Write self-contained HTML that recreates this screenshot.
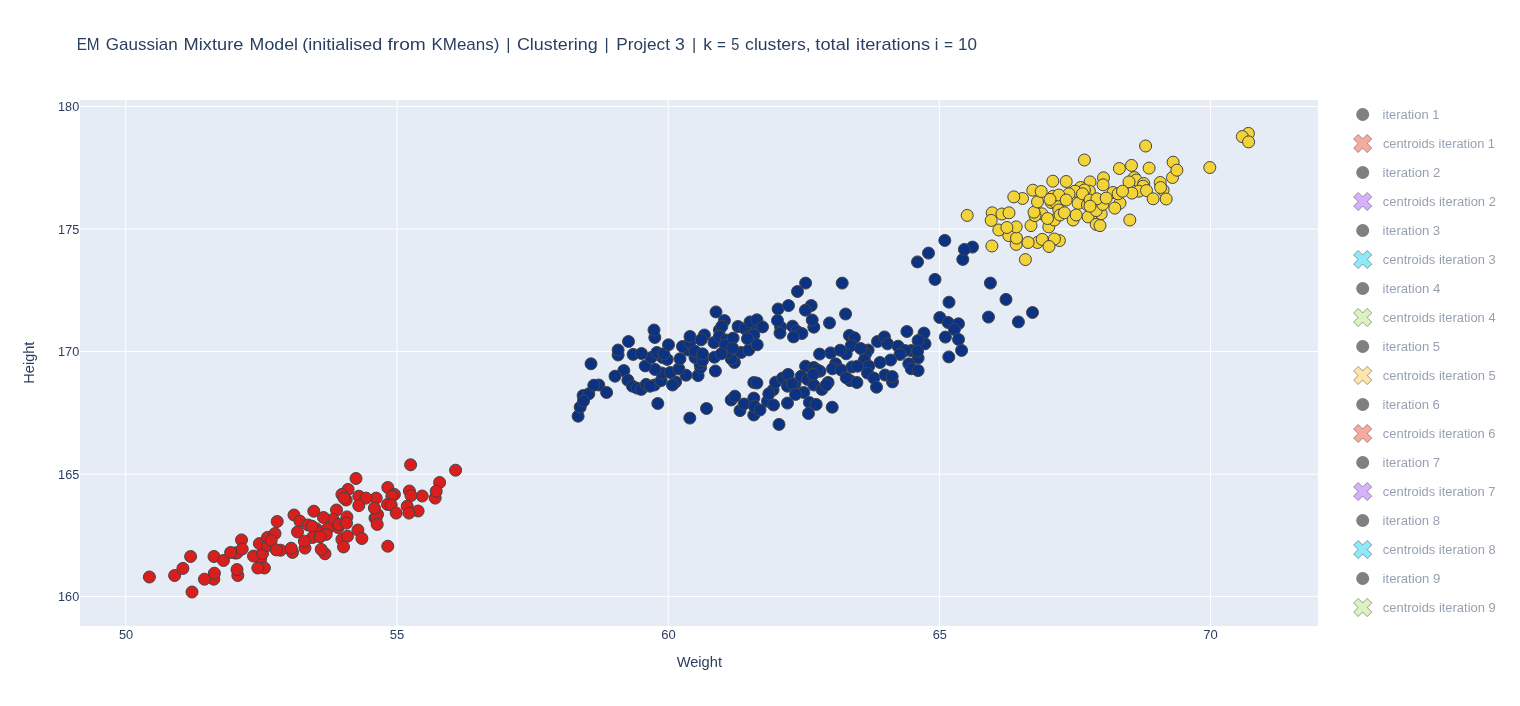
<!DOCTYPE html>
<html><head><meta charset="utf-8"><title>EM Gaussian Mixture Model</title>
<style>html,body{margin:0;padding:0;background:#fff;}svg{display:block;}text{font-family:"Liberation Sans", Arial, sans-serif;fill:#2a3f5f;}</style></head><body>
<svg width="1520" height="706" viewBox="0 0 1520 706">
<rect x="0" y="0" width="1520" height="706" fill="#fff"/>
<rect x="80" y="100" width="1238" height="526" fill="#E5ECF6"/>
<g stroke="#fff" stroke-width="1">
<line x1="125.83" y1="100" x2="125.83" y2="626"/>
<line x1="397.01" y1="100" x2="397.01" y2="626"/>
<line x1="668.25" y1="100" x2="668.25" y2="626"/>
<line x1="939.4" y1="100" x2="939.4" y2="626"/>
<line x1="1210.54" y1="100" x2="1210.54" y2="626"/>
<line x1="80" y1="596.5" x2="1318" y2="596.5"/>
<line x1="80" y1="474.15" x2="1318" y2="474.15"/>
<line x1="80" y1="351.5" x2="1318" y2="351.5"/>
<line x1="80" y1="229.15" x2="1318" y2="229.15"/>
<line x1="80" y1="106.5" x2="1318" y2="106.5"/>
</g>
<g fill="rgb(12,51,131)" stroke="#444" stroke-width="1">
<circle cx="591.0" cy="363.8" r="6"/><circle cx="578.1" cy="416.2" r="6"/><circle cx="580.2" cy="407.2" r="6"/><circle cx="583.1" cy="395.6" r="6"/><circle cx="588.8" cy="393.8" r="6"/><circle cx="583.5" cy="401.0" r="6"/><circle cx="598.8" cy="385.0" r="6"/><circle cx="593.8" cy="385.2" r="6"/><circle cx="606.6" cy="392.5" r="6"/><circle cx="623.8" cy="370.6" r="6"/><circle cx="615.0" cy="376.2" r="6"/><circle cx="627.9" cy="380.2" r="6"/><circle cx="632.5" cy="386.2" r="6"/><circle cx="636.9" cy="388.1" r="6"/><circle cx="641.2" cy="389.4" r="6"/><circle cx="646.2" cy="384.4" r="6"/><circle cx="654.4" cy="385.0" r="6"/><circle cx="661.2" cy="380.6" r="6"/><circle cx="650.0" cy="386.2" r="6"/><circle cx="657.8" cy="403.5" r="6"/><circle cx="689.8" cy="418.1" r="6"/><circle cx="706.5" cy="408.5" r="6"/><circle cx="731.2" cy="400.0" r="6"/><circle cx="734.8" cy="396.2" r="6"/><circle cx="740.0" cy="410.6" r="6"/><circle cx="744.0" cy="404.0" r="6"/><circle cx="753.8" cy="415.0" r="6"/><circle cx="753.8" cy="398.1" r="6"/><circle cx="754.4" cy="406.2" r="6"/><circle cx="753.8" cy="382.5" r="6"/><circle cx="715.4" cy="371.0" r="6"/><circle cx="698.1" cy="375.6" r="6"/><circle cx="686.0" cy="375.2" r="6"/><circle cx="675.6" cy="381.9" r="6"/><circle cx="672.5" cy="385.0" r="6"/><circle cx="661.9" cy="373.1" r="6"/><circle cx="655.0" cy="369.4" r="6"/><circle cx="670.2" cy="372.5" r="6"/><circle cx="645.2" cy="365.9" r="6"/><circle cx="678.8" cy="368.8" r="6"/><circle cx="700.6" cy="367.5" r="6"/><circle cx="700.0" cy="363.8" r="6"/><circle cx="695.0" cy="357.5" r="6"/><circle cx="702.5" cy="360.6" r="6"/><circle cx="680.0" cy="358.8" r="6"/><circle cx="662.5" cy="357.5" r="6"/><circle cx="667.2" cy="359.4" r="6"/><circle cx="651.2" cy="357.5" r="6"/><circle cx="633.1" cy="354.4" r="6"/><circle cx="641.5" cy="353.5" r="6"/><circle cx="618.1" cy="355.0" r="6"/><circle cx="618.1" cy="350.0" r="6"/><circle cx="714.4" cy="357.2" r="6"/><circle cx="734.4" cy="362.5" r="6"/><circle cx="731.2" cy="358.8" r="6"/><circle cx="727.5" cy="352.5" r="6"/><circle cx="741.2" cy="352.5" r="6"/><circle cx="748.8" cy="350.0" r="6"/><circle cx="628.5" cy="341.5" r="6"/><circle cx="654.8" cy="337.5" r="6"/><circle cx="654.0" cy="330.0" r="6"/><circle cx="656.9" cy="352.5" r="6"/><circle cx="663.8" cy="353.8" r="6"/><circle cx="668.5" cy="344.8" r="6"/><circle cx="688.1" cy="350.0" r="6"/><circle cx="682.5" cy="346.5" r="6"/><circle cx="690.0" cy="342.5" r="6"/><circle cx="690.0" cy="336.5" r="6"/><circle cx="704.4" cy="335.0" r="6"/><circle cx="701.2" cy="339.8" r="6"/><circle cx="695.0" cy="351.2" r="6"/><circle cx="702.5" cy="353.8" r="6"/><circle cx="714.0" cy="342.5" r="6"/><circle cx="716.0" cy="311.9" r="6"/><circle cx="724.4" cy="320.6" r="6"/><circle cx="719.4" cy="330.0" r="6"/><circle cx="721.9" cy="326.2" r="6"/><circle cx="719.4" cy="336.2" r="6"/><circle cx="738.1" cy="326.5" r="6"/><circle cx="751.2" cy="328.8" r="6"/><circle cx="745.0" cy="328.8" r="6"/><circle cx="750.0" cy="321.9" r="6"/><circle cx="748.8" cy="336.2" r="6"/><circle cx="726.2" cy="340.0" r="6"/><circle cx="725.0" cy="345.0" r="6"/><circle cx="733.1" cy="338.1" r="6"/><circle cx="732.5" cy="348.1" r="6"/><circle cx="721.2" cy="353.8" r="6"/><circle cx="805.6" cy="283.1" r="6"/><circle cx="797.5" cy="291.5" r="6"/><circle cx="842.2" cy="283.1" r="6"/><circle cx="778.1" cy="309.0" r="6"/><circle cx="788.5" cy="305.6" r="6"/><circle cx="811.2" cy="305.6" r="6"/><circle cx="805.4" cy="310.2" r="6"/><circle cx="813.8" cy="327.2" r="6"/><circle cx="812.2" cy="320.0" r="6"/><circle cx="829.5" cy="322.9" r="6"/><circle cx="845.6" cy="314.0" r="6"/><circle cx="780.6" cy="326.9" r="6"/><circle cx="780.0" cy="333.1" r="6"/><circle cx="777.5" cy="320.6" r="6"/><circle cx="792.5" cy="326.2" r="6"/><circle cx="796.9" cy="331.2" r="6"/><circle cx="801.9" cy="333.5" r="6"/><circle cx="793.5" cy="336.9" r="6"/><circle cx="756.9" cy="319.8" r="6"/><circle cx="762.5" cy="326.9" r="6"/><circle cx="753.8" cy="335.0" r="6"/><circle cx="747.5" cy="338.8" r="6"/><circle cx="757.2" cy="344.8" r="6"/><circle cx="849.4" cy="335.4" r="6"/><circle cx="854.4" cy="337.8" r="6"/><circle cx="851.2" cy="345.6" r="6"/><circle cx="846.2" cy="353.8" r="6"/><circle cx="830.6" cy="352.9" r="6"/><circle cx="840.2" cy="350.2" r="6"/><circle cx="819.6" cy="354.1" r="6"/><circle cx="835.6" cy="363.8" r="6"/><circle cx="805.6" cy="366.2" r="6"/><circle cx="813.8" cy="367.5" r="6"/><circle cx="868.1" cy="350.0" r="6"/><circle cx="865.6" cy="353.8" r="6"/><circle cx="864.4" cy="360.0" r="6"/><circle cx="860.6" cy="348.5" r="6"/><circle cx="877.5" cy="341.5" r="6"/><circle cx="884.4" cy="336.9" r="6"/><circle cx="887.5" cy="343.8" r="6"/><circle cx="898.1" cy="346.2" r="6"/><circle cx="906.9" cy="331.5" r="6"/><circle cx="924.0" cy="333.1" r="6"/><circle cx="925.0" cy="343.8" r="6"/><circle cx="918.1" cy="340.6" r="6"/><circle cx="911.2" cy="350.6" r="6"/><circle cx="905.0" cy="350.6" r="6"/><circle cx="900.0" cy="354.4" r="6"/><circle cx="890.6" cy="360.0" r="6"/><circle cx="880.0" cy="362.5" r="6"/><circle cx="918.1" cy="358.1" r="6"/><circle cx="908.8" cy="363.8" r="6"/><circle cx="868.8" cy="366.2" r="6"/><circle cx="851.9" cy="366.9" r="6"/><circle cx="756.9" cy="383.1" r="6"/><circle cx="760.0" cy="410.0" r="6"/><circle cx="779.0" cy="424.4" r="6"/><circle cx="773.1" cy="390.0" r="6"/><circle cx="775.6" cy="382.2" r="6"/><circle cx="767.5" cy="401.2" r="6"/><circle cx="773.5" cy="405.0" r="6"/><circle cx="768.8" cy="393.8" r="6"/><circle cx="787.5" cy="403.1" r="6"/><circle cx="782.5" cy="378.1" r="6"/><circle cx="788.1" cy="374.4" r="6"/><circle cx="787.5" cy="386.2" r="6"/><circle cx="795.0" cy="383.8" r="6"/><circle cx="792.2" cy="384.0" r="6"/><circle cx="803.8" cy="392.5" r="6"/><circle cx="795.6" cy="394.4" r="6"/><circle cx="809.4" cy="402.5" r="6"/><circle cx="816.2" cy="404.4" r="6"/><circle cx="808.5" cy="413.5" r="6"/><circle cx="832.2" cy="407.2" r="6"/><circle cx="801.2" cy="376.2" r="6"/><circle cx="820.0" cy="371.2" r="6"/><circle cx="817.5" cy="370.0" r="6"/><circle cx="807.5" cy="379.4" r="6"/><circle cx="813.8" cy="385.0" r="6"/><circle cx="813.1" cy="374.4" r="6"/><circle cx="828.1" cy="382.5" r="6"/><circle cx="821.9" cy="389.4" r="6"/><circle cx="826.2" cy="385.0" r="6"/><circle cx="832.5" cy="368.8" r="6"/><circle cx="841.2" cy="370.0" r="6"/><circle cx="857.5" cy="366.2" r="6"/><circle cx="850.0" cy="380.6" r="6"/><circle cx="856.9" cy="382.5" r="6"/><circle cx="846.2" cy="377.8" r="6"/><circle cx="867.5" cy="373.1" r="6"/><circle cx="873.8" cy="378.1" r="6"/><circle cx="876.5" cy="387.2" r="6"/><circle cx="885.0" cy="375.0" r="6"/><circle cx="892.5" cy="381.9" r="6"/><circle cx="892.2" cy="376.6" r="6"/><circle cx="911.2" cy="368.8" r="6"/><circle cx="918.1" cy="370.6" r="6"/><circle cx="944.8" cy="240.4" r="6"/><circle cx="928.5" cy="253.1" r="6"/><circle cx="917.5" cy="261.9" r="6"/><circle cx="972.5" cy="247.1" r="6"/><circle cx="962.8" cy="259.4" r="6"/><circle cx="964.4" cy="249.4" r="6"/><circle cx="935.0" cy="279.4" r="6"/><circle cx="990.4" cy="283.1" r="6"/><circle cx="949.0" cy="302.2" r="6"/><circle cx="1006.0" cy="299.4" r="6"/><circle cx="1032.5" cy="312.5" r="6"/><circle cx="988.5" cy="317.1" r="6"/><circle cx="1018.4" cy="321.9" r="6"/><circle cx="939.8" cy="317.5" r="6"/><circle cx="948.1" cy="322.5" r="6"/><circle cx="958.5" cy="323.8" r="6"/><circle cx="954.4" cy="329.4" r="6"/><circle cx="945.4" cy="337.1" r="6"/><circle cx="958.5" cy="339.4" r="6"/><circle cx="961.6" cy="350.4" r="6"/><circle cx="948.8" cy="356.9" r="6"/><circle cx="917.5" cy="351.2" r="6"/>
</g>
<g fill="rgb(242,211,56)" stroke="#444" stroke-width="1">
<circle cx="991.9" cy="246.0" r="6"/><circle cx="1025.4" cy="259.6" r="6"/><circle cx="1016.2" cy="244.4" r="6"/><circle cx="1008.8" cy="235.6" r="6"/><circle cx="1016.5" cy="238.1" r="6"/><circle cx="998.8" cy="230.0" r="6"/><circle cx="1016.2" cy="226.9" r="6"/><circle cx="1006.9" cy="227.5" r="6"/><circle cx="1031.0" cy="225.6" r="6"/><circle cx="1048.8" cy="226.9" r="6"/><circle cx="1037.5" cy="242.5" r="6"/><circle cx="1028.1" cy="242.5" r="6"/><circle cx="1042.2" cy="239.4" r="6"/><circle cx="1059.4" cy="240.6" r="6"/><circle cx="1054.4" cy="239.0" r="6"/><circle cx="1049.0" cy="246.5" r="6"/><circle cx="967.2" cy="215.4" r="6"/><circle cx="992.2" cy="212.8" r="6"/><circle cx="991.2" cy="220.4" r="6"/><circle cx="1001.9" cy="214.0" r="6"/><circle cx="1009.0" cy="212.8" r="6"/><circle cx="1022.5" cy="198.5" r="6"/><circle cx="1013.8" cy="196.9" r="6"/><circle cx="1054.4" cy="220.0" r="6"/><circle cx="1041.9" cy="213.8" r="6"/><circle cx="1035.0" cy="215.6" r="6"/><circle cx="1047.5" cy="218.5" r="6"/><circle cx="1034.0" cy="212.2" r="6"/><circle cx="1037.5" cy="201.9" r="6"/><circle cx="1032.8" cy="190.2" r="6"/><circle cx="1041.2" cy="191.5" r="6"/><circle cx="1051.2" cy="202.5" r="6"/><circle cx="1055.6" cy="202.5" r="6"/><circle cx="1058.8" cy="210.0" r="6"/><circle cx="1060.0" cy="215.0" r="6"/><circle cx="1064.4" cy="212.8" r="6"/><circle cx="1078.1" cy="203.4" r="6"/><circle cx="1073.1" cy="220.0" r="6"/><circle cx="1076.2" cy="215.0" r="6"/><circle cx="1088.1" cy="216.9" r="6"/><circle cx="1087.5" cy="205.0" r="6"/><circle cx="1093.8" cy="206.9" r="6"/><circle cx="1101.2" cy="213.8" r="6"/><circle cx="1096.2" cy="210.6" r="6"/><circle cx="1102.8" cy="204.4" r="6"/><circle cx="1096.2" cy="224.4" r="6"/><circle cx="1100.0" cy="225.6" r="6"/><circle cx="1129.8" cy="220.0" r="6"/><circle cx="1120.0" cy="203.1" r="6"/><circle cx="1114.8" cy="208.1" r="6"/><circle cx="1145.6" cy="146.0" r="6"/><circle cx="1084.4" cy="160.0" r="6"/><circle cx="1209.8" cy="167.5" r="6"/><circle cx="1173.1" cy="162.2" r="6"/><circle cx="1172.5" cy="177.5" r="6"/><circle cx="1176.9" cy="170.2" r="6"/><circle cx="1149.1" cy="168.1" r="6"/><circle cx="1131.5" cy="165.4" r="6"/><circle cx="1119.4" cy="168.5" r="6"/><circle cx="1052.8" cy="181.2" r="6"/><circle cx="1066.2" cy="181.5" r="6"/><circle cx="1103.5" cy="177.8" r="6"/><circle cx="1090.0" cy="181.9" r="6"/><circle cx="1103.1" cy="184.8" r="6"/><circle cx="1134.4" cy="177.5" r="6"/><circle cx="1136.2" cy="180.0" r="6"/><circle cx="1129.0" cy="181.9" r="6"/><circle cx="1160.2" cy="182.5" r="6"/><circle cx="1163.1" cy="190.0" r="6"/><circle cx="1160.6" cy="187.5" r="6"/><circle cx="1143.8" cy="183.5" r="6"/><circle cx="1143.1" cy="186.2" r="6"/><circle cx="1138.8" cy="191.2" r="6"/><circle cx="1146.5" cy="190.6" r="6"/><circle cx="1153.1" cy="198.8" r="6"/><circle cx="1166.2" cy="199.0" r="6"/><circle cx="1131.9" cy="193.1" r="6"/><circle cx="1113.1" cy="192.5" r="6"/><circle cx="1118.1" cy="193.8" r="6"/><circle cx="1122.5" cy="191.2" r="6"/><circle cx="1080.6" cy="187.5" r="6"/><circle cx="1089.4" cy="191.2" r="6"/><circle cx="1084.4" cy="190.0" r="6"/><circle cx="1075.0" cy="191.2" r="6"/><circle cx="1082.5" cy="193.8" r="6"/><circle cx="1069.0" cy="193.8" r="6"/><circle cx="1053.1" cy="196.2" r="6"/><circle cx="1058.8" cy="195.0" r="6"/><circle cx="1050.0" cy="199.4" r="6"/><circle cx="1066.2" cy="200.0" r="6"/><circle cx="1090.0" cy="200.0" r="6"/><circle cx="1096.9" cy="198.8" r="6"/><circle cx="1106.2" cy="198.1" r="6"/><circle cx="1090.0" cy="206.2" r="6"/><circle cx="1248.4" cy="133.4" r="6"/><circle cx="1242.3" cy="136.6" r="6"/><circle cx="1248.6" cy="141.9" r="6"/>
</g>
<g fill="rgb(217,30,30)" stroke="#444" stroke-width="1">
<circle cx="149.4" cy="577.0" r="6"/><circle cx="174.6" cy="575.5" r="6"/><circle cx="182.9" cy="568.4" r="6"/><circle cx="190.6" cy="556.5" r="6"/><circle cx="192.0" cy="592.0" r="6"/><circle cx="214.0" cy="556.5" r="6"/><circle cx="223.5" cy="560.5" r="6"/><circle cx="213.8" cy="579.2" r="6"/><circle cx="204.5" cy="579.2" r="6"/><circle cx="214.4" cy="573.2" r="6"/><circle cx="237.8" cy="575.5" r="6"/><circle cx="237.0" cy="569.6" r="6"/><circle cx="241.5" cy="539.9" r="6"/><circle cx="235.0" cy="553.0" r="6"/><circle cx="236.9" cy="553.0" r="6"/><circle cx="242.2" cy="549.0" r="6"/><circle cx="230.6" cy="552.5" r="6"/><circle cx="260.6" cy="559.2" r="6"/><circle cx="253.5" cy="556.1" r="6"/><circle cx="262.5" cy="553.6" r="6"/><circle cx="264.4" cy="568.0" r="6"/><circle cx="257.8" cy="568.0" r="6"/><circle cx="259.4" cy="543.6" r="6"/><circle cx="267.5" cy="545.5" r="6"/><circle cx="267.5" cy="537.4" r="6"/><circle cx="275.0" cy="533.6" r="6"/><circle cx="271.2" cy="540.5" r="6"/><circle cx="280.6" cy="550.2" r="6"/><circle cx="276.2" cy="549.9" r="6"/><circle cx="292.5" cy="552.4" r="6"/><circle cx="291.2" cy="548.2" r="6"/><circle cx="356.0" cy="478.5" r="6"/><circle cx="387.8" cy="487.5" r="6"/><circle cx="439.6" cy="482.5" r="6"/><circle cx="435.2" cy="498.1" r="6"/><circle cx="436.2" cy="491.2" r="6"/><circle cx="422.2" cy="496.0" r="6"/><circle cx="409.4" cy="491.0" r="6"/><circle cx="411.0" cy="495.6" r="6"/><circle cx="394.4" cy="494.4" r="6"/><circle cx="391.9" cy="496.2" r="6"/><circle cx="387.5" cy="504.4" r="6"/><circle cx="391.2" cy="505.0" r="6"/><circle cx="396.2" cy="513.1" r="6"/><circle cx="407.2" cy="506.2" r="6"/><circle cx="418.1" cy="511.0" r="6"/><circle cx="409.0" cy="513.1" r="6"/><circle cx="387.8" cy="546.2" r="6"/><circle cx="376.2" cy="498.1" r="6"/><circle cx="358.8" cy="496.2" r="6"/><circle cx="366.0" cy="498.1" r="6"/><circle cx="358.8" cy="505.6" r="6"/><circle cx="348.1" cy="489.4" r="6"/><circle cx="341.9" cy="494.4" r="6"/><circle cx="346.2" cy="500.0" r="6"/><circle cx="344.0" cy="498.1" r="6"/><circle cx="377.5" cy="514.4" r="6"/><circle cx="375.0" cy="518.1" r="6"/><circle cx="376.2" cy="517.5" r="6"/><circle cx="377.2" cy="524.4" r="6"/><circle cx="374.4" cy="508.1" r="6"/><circle cx="336.5" cy="510.0" r="6"/><circle cx="313.8" cy="511.2" r="6"/><circle cx="294.0" cy="515.0" r="6"/><circle cx="277.2" cy="521.5" r="6"/><circle cx="300.0" cy="521.2" r="6"/><circle cx="333.1" cy="519.4" r="6"/><circle cx="323.5" cy="517.5" r="6"/><circle cx="346.9" cy="516.9" r="6"/><circle cx="338.1" cy="527.5" r="6"/><circle cx="338.8" cy="524.4" r="6"/><circle cx="346.5" cy="523.1" r="6"/><circle cx="357.9" cy="530.0" r="6"/><circle cx="361.9" cy="538.5" r="6"/><circle cx="341.9" cy="539.4" r="6"/><circle cx="347.5" cy="536.2" r="6"/><circle cx="343.5" cy="546.9" r="6"/><circle cx="308.1" cy="525.0" r="6"/><circle cx="316.2" cy="528.8" r="6"/><circle cx="318.8" cy="532.5" r="6"/><circle cx="327.5" cy="528.8" r="6"/><circle cx="311.9" cy="526.2" r="6"/><circle cx="297.5" cy="531.9" r="6"/><circle cx="326.2" cy="534.4" r="6"/><circle cx="312.5" cy="537.5" r="6"/><circle cx="320.0" cy="536.9" r="6"/><circle cx="305.0" cy="548.1" r="6"/><circle cx="304.4" cy="541.2" r="6"/><circle cx="325.0" cy="553.8" r="6"/><circle cx="321.2" cy="549.4" r="6"/><circle cx="410.6" cy="464.8" r="6"/><circle cx="455.6" cy="470.2" r="6"/>
</g>
<text x="76.64" y="49.50" font-size="16.2" textLength="22.98" lengthAdjust="spacingAndGlyphs">EM</text>
<text x="105.72" y="49.50" font-size="16.2" textLength="71.92" lengthAdjust="spacingAndGlyphs">Gaussian</text>
<text x="183.59" y="49.50" font-size="16.2" textLength="59.77" lengthAdjust="spacingAndGlyphs">Mixture</text>
<text x="249.59" y="49.50" font-size="16.2" textLength="48.44" lengthAdjust="spacingAndGlyphs">Model</text>
<text x="302.37" y="49.50" font-size="16.2" textLength="79.83" lengthAdjust="spacingAndGlyphs">(initialised</text>
<text x="387.53" y="49.50" font-size="16.2" textLength="38.31" lengthAdjust="spacingAndGlyphs">from</text>
<text x="431.44" y="49.50" font-size="16.2" textLength="67.95" lengthAdjust="spacingAndGlyphs">KMeans)</text>
<text x="506.30" y="49.50" font-size="16.2">|</text>
<text x="516.93" y="49.50" font-size="16.2" textLength="80.71" lengthAdjust="spacingAndGlyphs">Clustering</text>
<text x="604.49" y="49.50" font-size="16.2">|</text>
<text x="616.34" y="49.50" font-size="16.2" textLength="53.60" lengthAdjust="spacingAndGlyphs">Project</text>
<text x="675.05" y="49.50" font-size="16.2" textLength="9.84" lengthAdjust="spacingAndGlyphs">3</text>
<text x="692.10" y="49.50" font-size="16.2">|</text>
<text x="703.34" y="49.50" font-size="16.2" textLength="8.71" lengthAdjust="spacingAndGlyphs">k</text>
<text x="717.03" y="49.50" font-size="16.2" textLength="8.82" lengthAdjust="spacingAndGlyphs">=</text>
<text x="731.23" y="49.50" font-size="16.2" textLength="8.09" lengthAdjust="spacingAndGlyphs">5</text>
<text x="745.08" y="49.50" font-size="16.2" textLength="65.60" lengthAdjust="spacingAndGlyphs">clusters,</text>
<text x="815.38" y="49.50" font-size="16.2" textLength="34.51" lengthAdjust="spacingAndGlyphs">total</text>
<text x="856.11" y="49.50" font-size="16.2" textLength="73.90" lengthAdjust="spacingAndGlyphs">iterations</text>
<text x="934.76" y="49.50" font-size="16.2">i</text>
<text x="944.03" y="49.50" font-size="16.2" textLength="9.06" lengthAdjust="spacingAndGlyphs">=</text>
<text x="958.10" y="49.50" font-size="16.2" textLength="18.98" lengthAdjust="spacingAndGlyphs">10</text>
<text x="118.90" y="639.00" font-size="12" textLength="14.26" lengthAdjust="spacingAndGlyphs">50</text>
<text x="389.88" y="639.00" font-size="12" textLength="14.45" lengthAdjust="spacingAndGlyphs">55</text>
<text x="661.25" y="639.00" font-size="12" textLength="14.52" lengthAdjust="spacingAndGlyphs">60</text>
<text x="932.73" y="639.00" font-size="12" textLength="14.14" lengthAdjust="spacingAndGlyphs">65</text>
<text x="1203.32" y="639.00" font-size="12" textLength="14.54" lengthAdjust="spacingAndGlyphs">70</text>
<text x="58.09" y="600.90" font-size="12" textLength="21.12" lengthAdjust="spacingAndGlyphs">160</text>
<text x="58.08" y="478.55" font-size="12" textLength="21.16" lengthAdjust="spacingAndGlyphs">165</text>
<text x="58.09" y="355.90" font-size="12" textLength="21.12" lengthAdjust="spacingAndGlyphs">170</text>
<text x="58.08" y="233.55" font-size="12" textLength="21.16" lengthAdjust="spacingAndGlyphs">175</text>
<text x="58.09" y="110.90" font-size="12" textLength="21.12" lengthAdjust="spacingAndGlyphs">180</text>
<text x="676.68" y="666.70" font-size="14" textLength="45.29" lengthAdjust="spacingAndGlyphs">Weight</text>
<text transform="translate(34.2,362.5) rotate(-90)" x="-21.16" y="0" font-size="14" textLength="42.00" lengthAdjust="spacingAndGlyphs">Height</text>
<circle cx="1362.7" cy="114.5" r="6.5" fill="#808080"/>
<path transform="translate(1362.7,143.5)" d="M0,4.53l4.53,4.53l4.53,-4.53l-4.53,-4.53l4.53,-4.53l-4.53,-4.53l-4.53,4.53l-4.53,-4.53l-4.53,4.53l4.53,4.53l-4.53,4.53l4.53,4.53Z" fill="#EF553B" fill-opacity="0.5" stroke="#444" stroke-opacity="0.5" stroke-width="1"/>
<circle cx="1362.7" cy="172.5" r="6.5" fill="#808080"/>
<path transform="translate(1362.7,201.5)" d="M0,4.53l4.53,4.53l4.53,-4.53l-4.53,-4.53l4.53,-4.53l-4.53,-4.53l-4.53,4.53l-4.53,-4.53l-4.53,4.53l4.53,4.53l-4.53,4.53l4.53,4.53Z" fill="#AB63FA" fill-opacity="0.5" stroke="#444" stroke-opacity="0.5" stroke-width="1"/>
<circle cx="1362.7" cy="230.5" r="6.5" fill="#808080"/>
<path transform="translate(1362.7,259.5)" d="M0,4.53l4.53,4.53l4.53,-4.53l-4.53,-4.53l4.53,-4.53l-4.53,-4.53l-4.53,4.53l-4.53,-4.53l-4.53,4.53l4.53,4.53l-4.53,4.53l4.53,4.53Z" fill="#19D3F3" fill-opacity="0.5" stroke="#444" stroke-opacity="0.5" stroke-width="1"/>
<circle cx="1362.7" cy="288.5" r="6.5" fill="#808080"/>
<path transform="translate(1362.7,317.5)" d="M0,4.53l4.53,4.53l4.53,-4.53l-4.53,-4.53l4.53,-4.53l-4.53,-4.53l-4.53,4.53l-4.53,-4.53l-4.53,4.53l4.53,4.53l-4.53,4.53l4.53,4.53Z" fill="#B6E880" fill-opacity="0.5" stroke="#444" stroke-opacity="0.5" stroke-width="1"/>
<circle cx="1362.7" cy="346.5" r="6.5" fill="#808080"/>
<path transform="translate(1362.7,375.5)" d="M0,4.53l4.53,4.53l4.53,-4.53l-4.53,-4.53l4.53,-4.53l-4.53,-4.53l-4.53,4.53l-4.53,-4.53l-4.53,4.53l4.53,4.53l-4.53,4.53l4.53,4.53Z" fill="#FECB52" fill-opacity="0.5" stroke="#444" stroke-opacity="0.5" stroke-width="1"/>
<circle cx="1362.7" cy="404.5" r="6.5" fill="#808080"/>
<path transform="translate(1362.7,433.5)" d="M0,4.53l4.53,4.53l4.53,-4.53l-4.53,-4.53l4.53,-4.53l-4.53,-4.53l-4.53,4.53l-4.53,-4.53l-4.53,4.53l4.53,4.53l-4.53,4.53l4.53,4.53Z" fill="#EF553B" fill-opacity="0.5" stroke="#444" stroke-opacity="0.5" stroke-width="1"/>
<circle cx="1362.7" cy="462.5" r="6.5" fill="#808080"/>
<path transform="translate(1362.7,491.5)" d="M0,4.53l4.53,4.53l4.53,-4.53l-4.53,-4.53l4.53,-4.53l-4.53,-4.53l-4.53,4.53l-4.53,-4.53l-4.53,4.53l4.53,4.53l-4.53,4.53l4.53,4.53Z" fill="#AB63FA" fill-opacity="0.5" stroke="#444" stroke-opacity="0.5" stroke-width="1"/>
<circle cx="1362.7" cy="520.5" r="6.5" fill="#808080"/>
<path transform="translate(1362.7,549.5)" d="M0,4.53l4.53,4.53l4.53,-4.53l-4.53,-4.53l4.53,-4.53l-4.53,-4.53l-4.53,4.53l-4.53,-4.53l-4.53,4.53l4.53,4.53l-4.53,4.53l4.53,4.53Z" fill="#19D3F3" fill-opacity="0.5" stroke="#444" stroke-opacity="0.5" stroke-width="1"/>
<circle cx="1362.7" cy="578.5" r="6.5" fill="#808080"/>
<path transform="translate(1362.7,607.5)" d="M0,4.53l4.53,4.53l4.53,-4.53l-4.53,-4.53l4.53,-4.53l-4.53,-4.53l-4.53,4.53l-4.53,-4.53l-4.53,4.53l4.53,4.53l-4.53,4.53l4.53,4.53Z" fill="#B6E880" fill-opacity="0.5" stroke="#444" stroke-opacity="0.5" stroke-width="1"/>
<text x="1382.58" y="118.90" font-size="12" fill-opacity="0.5" textLength="56.81" lengthAdjust="spacingAndGlyphs">iteration 1</text>
<text x="1382.90" y="147.90" font-size="12" fill-opacity="0.5" textLength="112.14" lengthAdjust="spacingAndGlyphs">centroids iteration 1</text>
<text x="1382.54" y="176.90" font-size="12" fill-opacity="0.5" textLength="57.71" lengthAdjust="spacingAndGlyphs">iteration 2</text>
<text x="1382.87" y="205.90" font-size="12" fill-opacity="0.5" textLength="112.98" lengthAdjust="spacingAndGlyphs">centroids iteration 2</text>
<text x="1382.56" y="234.90" font-size="12" fill-opacity="0.5" textLength="57.63" lengthAdjust="spacingAndGlyphs">iteration 3</text>
<text x="1382.88" y="263.90" font-size="12" fill-opacity="0.5" textLength="112.78" lengthAdjust="spacingAndGlyphs">centroids iteration 3</text>
<text x="1382.57" y="292.90" font-size="12" fill-opacity="0.5" textLength="57.68" lengthAdjust="spacingAndGlyphs">iteration 4</text>
<text x="1382.89" y="321.90" font-size="12" fill-opacity="0.5" textLength="112.71" lengthAdjust="spacingAndGlyphs">centroids iteration 4</text>
<text x="1382.56" y="350.90" font-size="12" fill-opacity="0.5" textLength="57.58" lengthAdjust="spacingAndGlyphs">iteration 5</text>
<text x="1382.88" y="379.90" font-size="12" fill-opacity="0.5" textLength="112.77" lengthAdjust="spacingAndGlyphs">centroids iteration 5</text>
<text x="1382.57" y="408.90" font-size="12" fill-opacity="0.5" textLength="57.30" lengthAdjust="spacingAndGlyphs">iteration 6</text>
<text x="1382.89" y="437.90" font-size="12" fill-opacity="0.5" textLength="112.59" lengthAdjust="spacingAndGlyphs">centroids iteration 6</text>
<text x="1382.57" y="466.90" font-size="12" fill-opacity="0.5" textLength="57.61" lengthAdjust="spacingAndGlyphs">iteration 7</text>
<text x="1382.89" y="495.90" font-size="12" fill-opacity="0.5" textLength="112.59" lengthAdjust="spacingAndGlyphs">centroids iteration 7</text>
<text x="1382.55" y="524.90" font-size="12" fill-opacity="0.5" textLength="57.39" lengthAdjust="spacingAndGlyphs">iteration 8</text>
<text x="1382.88" y="553.90" font-size="12" fill-opacity="0.5" textLength="112.73" lengthAdjust="spacingAndGlyphs">centroids iteration 8</text>
<text x="1382.57" y="582.90" font-size="12" fill-opacity="0.5" textLength="57.71" lengthAdjust="spacingAndGlyphs">iteration 9</text>
<text x="1382.88" y="611.90" font-size="12" fill-opacity="0.5" textLength="112.80" lengthAdjust="spacingAndGlyphs">centroids iteration 9</text>
</svg></body></html>
